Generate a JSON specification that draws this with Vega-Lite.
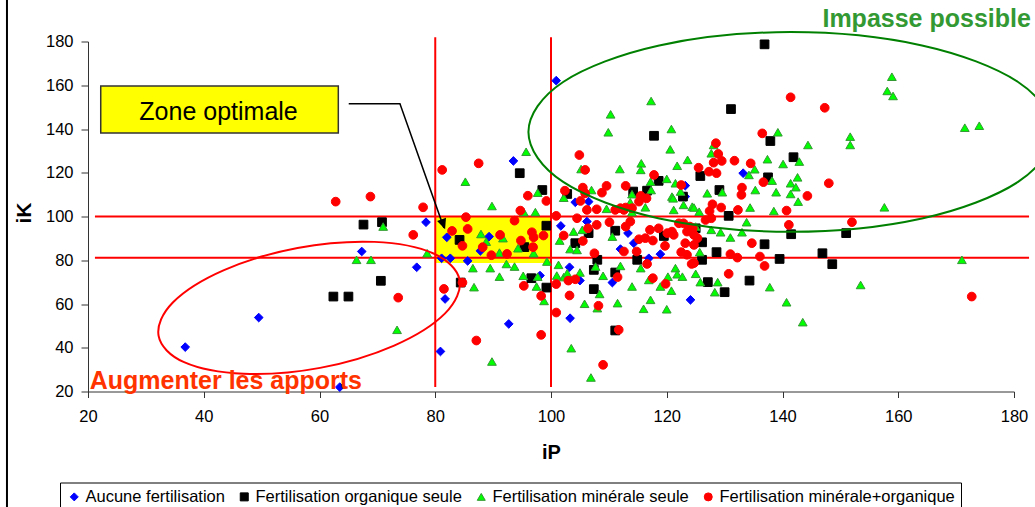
{
"$schema": "https://vega.github.io/schema/vega-lite/v6.json",
"width": 926, "height": 350,
"autosize": {"type": "none"},
"padding": {"left": 88, "top": 41.5, "right": 21, "bottom": 115.5},
"background": "white",
"config": {"view": {"stroke": null}, "font": "Liberation Sans"},
"encoding": {
  "x": {"field": "iP", "type": "quantitative", "title": "iP",
        "scale": {"domain": [20, 180], "nice": false, "zero": false},
        "axis": {"values": [20,40,60,80,100,120,140,160,180], "grid": false, "labelFlush": false, "tickSize": 6, "labelPadding": 11,
                 "labelFontSize": 16.5, "labelColor": "#000000", "domainColor": "#333333", "tickColor": "#333333",
                 "titleFontSize": 20, "titleFontWeight": "bold", "titleColor": "#000000", "titleY": 67, "titleBaseline": "alphabetic"}},
  "y": {"field": "iK", "type": "quantitative", "title": "iK",
        "scale": {"domain": [20, 180], "nice": false, "zero": false},
        "axis": {"values": [20,40,60,80,100,120,140,160,180], "grid": false, "tickSize": 7, "labelPadding": 8,
                 "labelFontSize": 16.5, "labelColor": "#000000", "domainColor": "#333333", "tickColor": "#333333",
                 "titleFontSize": 21, "titleFontWeight": "bold", "titleColor": "#000000", "titleX": -58, "titleY": 171,
                 "titleAngle": 270, "titleBaseline": "alphabetic", "titleAlign": "center"}}
},
"layer": [
  {"data": {"values": [{"iP": 80, "iP2": 100, "iK": 78.7, "iK2": 100}]},
   "mark": {"type": "rect", "fill": "#ffff00"},
   "encoding": {"x2": {"field": "iP2"}, "y2": {"field": "iK2"}}},
  {"data": {"values": [{"iP": 80, "iK": 22.1, "iK2": 182}, {"iP": 100, "iK": 22.1, "iK2": 182}]},
   "mark": {"type": "rule", "color": "#ff0000", "strokeWidth": 2},
   "encoding": {"y2": {"field": "iK2"}}},
  {"data": {"values": [{"iK": 100, "iP": 21.2, "iP2": 182.6}, {"iK": 81.2, "iP": 21.2, "iP2": 182.6}]},
   "mark": {"type": "rule", "color": "#ff0000", "strokeWidth": 2},
   "encoding": {"x2": {"field": "iP2"}}},
  {"data": {"values": [
    {"g":"Aucune fertilisation","iP":36.8,"iK":40.3},{"g":"Aucune fertilisation","iP":49.5,"iK":53.8},{"g":"Aucune fertilisation","iP":63.5,"iK":22.0},
    {"g":"Aucune fertilisation","iP":67.3,"iK":84.0},{"g":"Aucune fertilisation","iP":76.8,"iK":76.8},{"g":"Aucune fertilisation","iP":78.4,"iK":97.4},
    {"g":"Aucune fertilisation","iP":80.9,"iK":38.3},{"g":"Aucune fertilisation","iP":82.0,"iK":90.5},{"g":"Aucune fertilisation","iP":81.1,"iK":80.9},
    {"g":"Aucune fertilisation","iP":82.6,"iK":80.9},{"g":"Aucune fertilisation","iP":85.6,"iK":79.7},{"g":"Aucune fertilisation","iP":81.7,"iK":62.3},
    {"g":"Aucune fertilisation","iP":92.7,"iK":50.9},{"g":"Aucune fertilisation","iP":89.3,"iK":90.8},{"g":"Aucune fertilisation","iP":87.8,"iK":84.3},
    {"g":"Aucune fertilisation","iP":93.5,"iK":125.4},{"g":"Aucune fertilisation","iP":100.9,"iK":162.1},{"g":"Aucune fertilisation","iP":101.7,"iK":95.7},
    {"g":"Aucune fertilisation","iP":106.2,"iK":97.7},{"g":"Aucune fertilisation","iP":113.3,"iK":92.4},{"g":"Aucune fertilisation","iP":114.3,"iK":87.8},
    {"g":"Aucune fertilisation","iP":116.9,"iK":80.9},{"g":"Aucune fertilisation","iP":103.2,"iK":76.8},{"g":"Aucune fertilisation","iP":105.0,"iK":70.7},
    {"g":"Aucune fertilisation","iP":110.6,"iK":69.8},{"g":"Aucune fertilisation","iP":103.3,"iK":53.5},{"g":"Aucune fertilisation","iP":104.2,"iK":106.5},
    {"g":"Aucune fertilisation","iP":106.5,"iK":106.8},{"g":"Aucune fertilisation","iP":118.9,"iK":82.8},{"g":"Aucune fertilisation","iP":112.0,"iK":85.1},
    {"g":"Aucune fertilisation","iP":98.1,"iK":73.0},{"g":"Aucune fertilisation","iP":123.2,"iK":114.1},{"g":"Aucune fertilisation","iP":123.2,"iK":109.1},
    {"g":"Aucune fertilisation","iP":133.2,"iK":119.8},{"g":"Aucune fertilisation","iP":124.1,"iK":61.9},
    {"g":"Fertilisation organique seule","iP":62.4,"iK":63.4},{"g":"Fertilisation organique seule","iP":65.0,"iK":63.4},{"g":"Fertilisation organique seule","iP":67.6,"iK":96.3},
    {"g":"Fertilisation organique seule","iP":70.8,"iK":97.4},{"g":"Fertilisation organique seule","iP":70.6,"iK":70.6},{"g":"Fertilisation organique seule","iP":84.2,"iK":89.3},
    {"g":"Fertilisation organique seule","iP":84.4,"iK":69.8},{"g":"Fertilisation organique seule","iP":95.4,"iK":86.0},{"g":"Fertilisation organique seule","iP":96.6,"iK":71.8},
    {"g":"Fertilisation organique seule","iP":99.2,"iK":67.5},{"g":"Fertilisation organique seule","iP":99.2,"iK":95.8},{"g":"Fertilisation organique seule","iP":98.5,"iK":112.1},
    {"g":"Fertilisation organique seule","iP":94.6,"iK":119.8},{"g":"Fertilisation organique seule","iP":104.2,"iK":87.8},{"g":"Fertilisation organique seule","iP":106.5,"iK":92.4},
    {"g":"Fertilisation organique seule","iP":111.1,"iK":93.5},{"g":"Fertilisation organique seule","iP":119.5,"iK":91.1},{"g":"Fertilisation organique seule","iP":114.9,"iK":80.2},
    {"g":"Fertilisation organique seule","iP":108.0,"iK":80.2},{"g":"Fertilisation organique seule","iP":107.4,"iK":75.6},{"g":"Fertilisation organique seule","iP":107.4,"iK":66.8},
    {"g":"Fertilisation organique seule","iP":111.1,"iK":74.4},{"g":"Fertilisation organique seule","iP":111.1,"iK":47.9},{"g":"Fertilisation organique seule","iP":117.8,"iK":136.9},
    {"g":"Fertilisation organique seule","iP":118.6,"iK":116.3},{"g":"Fertilisation organique seule","iP":102.8,"iK":110.3},{"g":"Fertilisation organique seule","iP":114.2,"iK":111.4},
    {"g":"Fertilisation organique seule","iP":116.6,"iK":111.8},{"g":"Fertilisation organique seule","iP":125.8,"iK":118.5},{"g":"Fertilisation organique seule","iP":122.8,"iK":109.1},
    {"g":"Fertilisation organique seule","iP":131.1,"iK":149.1},{"g":"Fertilisation organique seule","iP":136.9,"iK":178.7},{"g":"Fertilisation organique seule","iP":137.9,"iK":134.5},
    {"g":"Fertilisation organique seule","iP":141.9,"iK":127.1},{"g":"Fertilisation organique seule","iP":137.5,"iK":117.9},{"g":"Fertilisation organique seule","iP":129.1,"iK":112.1},
    {"g":"Fertilisation organique seule","iP":130.7,"iK":100.3},{"g":"Fertilisation organique seule","iP":125.0,"iK":94.6},{"g":"Fertilisation organique seule","iP":126.1,"iK":88.2},
    {"g":"Fertilisation organique seule","iP":128.6,"iK":83.7},{"g":"Fertilisation organique seule","iP":126.1,"iK":80.2},{"g":"Fertilisation organique seule","iP":136.9,"iK":87.3},
    {"g":"Fertilisation organique seule","iP":141.5,"iK":91.9},{"g":"Fertilisation organique seule","iP":151.0,"iK":92.4},{"g":"Fertilisation organique seule","iP":139.5,"iK":80.6},
    {"g":"Fertilisation organique seule","iP":146.9,"iK":83.2},{"g":"Fertilisation organique seule","iP":148.6,"iK":78.2},{"g":"Fertilisation organique seule","iP":134.3,"iK":70.7},
    {"g":"Fertilisation organique seule","iP":127.1,"iK":70.0},{"g":"Fertilisation organique seule","iP":130.0,"iK":65.4},
    {"g":"Fertilisation minérale seule","iP":71.0,"iK":95.4},{"g":"Fertilisation minérale seule","iP":66.4,"iK":80.2},{"g":"Fertilisation minérale seule","iP":68.9,"iK":80.2},
    {"g":"Fertilisation minérale seule","iP":78.6,"iK":83.2},{"g":"Fertilisation minérale seule","iP":73.4,"iK":48.2},{"g":"Fertilisation minérale seule","iP":85.2,"iK":115.9},
    {"g":"Fertilisation minérale seule","iP":86.5,"iK":76.4},{"g":"Fertilisation minérale seule","iP":86.7,"iK":67.7},{"g":"Fertilisation minérale seule","iP":89.8,"iK":33.7},
    {"g":"Fertilisation minérale seule","iP":89.8,"iK":104.8},{"g":"Fertilisation minérale seule","iP":87.9,"iK":92.0},{"g":"Fertilisation minérale seule","iP":88.8,"iK":88.5},
    {"g":"Fertilisation minérale seule","iP":91.1,"iK":83.5},{"g":"Fertilisation minérale seule","iP":91.7,"iK":90.1},{"g":"Fertilisation minérale seule","iP":97.7,"iK":110.9},
    {"g":"Fertilisation minérale seule","iP":94.3,"iK":85.5},{"g":"Fertilisation minérale seule","iP":97.0,"iK":83.2},{"g":"Fertilisation minérale seule","iP":92.3,"iK":78.3},
    {"g":"Fertilisation minérale seule","iP":93.7,"iK":77.1},{"g":"Fertilisation minérale seule","iP":89.5,"iK":76.4},{"g":"Fertilisation minérale seule","iP":91.1,"iK":72.5},
    {"g":"Fertilisation minérale seule","iP":95.2,"iK":72.9},{"g":"Fertilisation minérale seule","iP":97.7,"iK":72.5},{"g":"Fertilisation minérale seule","iP":97.5,"iK":68.0},
    {"g":"Fertilisation minérale seule","iP":98.8,"iK":61.4},{"g":"Fertilisation minérale seule","iP":99.3,"iK":79.4},{"g":"Fertilisation minérale seule","iP":101.5,"iK":89.0},
    {"g":"Fertilisation minérale seule","iP":103.9,"iK":93.1},{"g":"Fertilisation minérale seule","iP":105.4,"iK":93.9},{"g":"Fertilisation minérale seule","iP":103.3,"iK":85.1},
    {"g":"Fertilisation minérale seule","iP":104.5,"iK":84.7},{"g":"Fertilisation minérale seule","iP":110.6,"iK":90.8},{"g":"Fertilisation minérale seule","iP":115.5,"iK":76.4},
    {"g":"Fertilisation minérale seule","iP":116.9,"iK":71.0},{"g":"Fertilisation minérale seule","iP":120.2,"iK":72.5},{"g":"Fertilisation minérale seule","iP":120.8,"iK":66.1},
    {"g":"Fertilisation minérale seule","iP":121.5,"iK":76.4},{"g":"Fertilisation minérale seule","iP":120.0,"iK":57.6},{"g":"Fertilisation minérale seule","iP":116.0,"iK":57.8},
    {"g":"Fertilisation minérale seule","iP":117.2,"iK":61.9},{"g":"Fertilisation minérale seule","iP":107.7,"iK":77.1},{"g":"Fertilisation minérale seule","iP":108.4,"iK":64.6},
    {"g":"Fertilisation minérale seule","iP":105.8,"iK":60.1},{"g":"Fertilisation minérale seule","iP":108.0,"iK":58.1},{"g":"Fertilisation minérale seule","iP":111.5,"iK":60.4},
    {"g":"Fertilisation minérale seule","iP":114.0,"iK":68.0},{"g":"Fertilisation minérale seule","iP":109.0,"iK":72.9},{"g":"Fertilisation minérale seule","iP":112.0,"iK":77.4},
    {"g":"Fertilisation minérale seule","iP":105.0,"iK":74.4},{"g":"Fertilisation minérale seule","iP":102.2,"iK":72.3},{"g":"Fertilisation minérale seule","iP":101.3,"iK":77.9},
    {"g":"Fertilisation minérale seule","iP":103.5,"iK":39.8},{"g":"Fertilisation minérale seule","iP":106.9,"iK":26.4},{"g":"Fertilisation minérale seule","iP":95.7,"iK":129.6},
    {"g":"Fertilisation minérale seule","iP":117.3,"iK":152.8},{"g":"Fertilisation minérale seule","iP":110.3,"iK":146.7},{"g":"Fertilisation minérale seule","iP":109.9,"iK":138.5},
    {"g":"Fertilisation minérale seule","iP":120.8,"iK":140.0},{"g":"Fertilisation minérale seule","iP":120.6,"iK":130.7},{"g":"Fertilisation minérale seule","iP":105.2,"iK":121.7},
    {"g":"Fertilisation minérale seule","iP":111.9,"iK":121.7},{"g":"Fertilisation minérale seule","iP":115.6,"iK":124.3},{"g":"Fertilisation minérale seule","iP":115.5,"iK":121.3},
    {"g":"Fertilisation minérale seule","iP":121.8,"iK":123.2},{"g":"Fertilisation minérale seule","iP":120.0,"iK":117.2},{"g":"Fertilisation minérale seule","iP":117.2,"iK":115.9},
    {"g":"Fertilisation minérale seule","iP":117.3,"iK":112.1},{"g":"Fertilisation minérale seule","iP":107.0,"iK":112.1},{"g":"Fertilisation minérale seule","iP":114.0,"iK":110.2},
    {"g":"Fertilisation minérale seule","iP":123.6,"iK":125.9},{"g":"Fertilisation minérale seule","iP":121.5,"iK":115.2},{"g":"Fertilisation minérale seule","iP":122.4,"iK":111.4},
    {"g":"Fertilisation minérale seule","iP":120.9,"iK":109.1},{"g":"Fertilisation minérale seule","iP":139.2,"iK":138.5},{"g":"Fertilisation minérale seule","iP":144.4,"iK":132.7},
    {"g":"Fertilisation minérale seule","iP":151.7,"iK":136.5},{"g":"Fertilisation minérale seule","iP":151.7,"iK":132.7},{"g":"Fertilisation minérale seule","iP":127.7,"iK":128.9},
    {"g":"Fertilisation minérale seule","iP":128.1,"iK":132.7},{"g":"Fertilisation minérale seule","iP":137.4,"iK":126.2},{"g":"Fertilisation minérale seule","iP":140.1,"iK":124.0},
    {"g":"Fertilisation minérale seule","iP":142.9,"iK":125.1},{"g":"Fertilisation minérale seule","iP":134.2,"iK":119.0},{"g":"Fertilisation minérale seule","iP":135.2,"iK":121.6},
    {"g":"Fertilisation minérale seule","iP":138.2,"iK":116.4},{"g":"Fertilisation minérale seule","iP":142.6,"iK":117.9},{"g":"Fertilisation minérale seule","iP":141.4,"iK":115.2},
    {"g":"Fertilisation minérale seule","iP":142.3,"iK":113.4},{"g":"Fertilisation minérale seule","iP":129.6,"iK":111.1},{"g":"Fertilisation minérale seule","iP":127.0,"iK":110.6},
    {"g":"Fertilisation minérale seule","iP":135.3,"iK":112.1},{"g":"Fertilisation minérale seule","iP":138.9,"iK":111.1},{"g":"Fertilisation minérale seule","iP":141.4,"iK":110.3},
    {"g":"Fertilisation minérale seule","iP":158.9,"iK":163.9},{"g":"Fertilisation minérale seule","iP":158.1,"iK":157.4},{"g":"Fertilisation minérale seule","iP":159.1,"iK":155.1},
    {"g":"Fertilisation minérale seule","iP":171.5,"iK":140.6},{"g":"Fertilisation minérale seule","iP":174.0,"iK":141.5},{"g":"Fertilisation minérale seule","iP":102.2,"iK":108.6},
    {"g":"Fertilisation minérale seule","iP":109.6,"iK":103.5},{"g":"Fertilisation minérale seule","iP":114.0,"iK":102.0},{"g":"Fertilisation minérale seule","iP":113.7,"iK":106.5},
    {"g":"Fertilisation minérale seule","iP":116.3,"iK":104.2},{"g":"Fertilisation minérale seule","iP":121.2,"iK":103.0},{"g":"Fertilisation minérale seule","iP":124.4,"iK":104.5},
    {"g":"Fertilisation minérale seule","iP":125.6,"iK":102.2},{"g":"Fertilisation minérale seule","iP":121.1,"iK":108.3},{"g":"Fertilisation minérale seule","iP":122.9,"iK":105.3},
    {"g":"Fertilisation minérale seule","iP":95.3,"iK":102.0},{"g":"Fertilisation minérale seule","iP":97.3,"iK":102.0},{"g":"Fertilisation minérale seule","iP":125.0,"iK":95.4},
    {"g":"Fertilisation minérale seule","iP":121.8,"iK":73.6},{"g":"Fertilisation minérale seule","iP":122.7,"iK":72.5},{"g":"Fertilisation minérale seule","iP":125.0,"iK":73.8},
    {"g":"Fertilisation minérale seule","iP":102.8,"iK":74.1},{"g":"Fertilisation minérale seule","iP":101.0,"iK":73.0},{"g":"Fertilisation minérale seule","iP":118.9,"iK":68.0},
    {"g":"Fertilisation minérale seule","iP":142.7,"iK":106.8},{"g":"Fertilisation minérale seule","iP":124.7,"iK":104.1},{"g":"Fertilisation minérale seule","iP":134.4,"iK":104.1},
    {"g":"Fertilisation minérale seule","iP":138.5,"iK":102.5},{"g":"Fertilisation minérale seule","iP":127.7,"iK":93.9},{"g":"Fertilisation minérale seule","iP":133.8,"iK":97.4},
    {"g":"Fertilisation minérale seule","iP":133.0,"iK":92.8},{"g":"Fertilisation minérale seule","iP":131.0,"iK":90.4},{"g":"Fertilisation minérale seule","iP":125.7,"iK":83.7},
    {"g":"Fertilisation minérale seule","iP":125.8,"iK":70.0},{"g":"Fertilisation minérale seule","iP":128.8,"iK":70.0},{"g":"Fertilisation minérale seule","iP":128.3,"iK":65.4},
    {"g":"Fertilisation minérale seule","iP":137.8,"iK":67.7},{"g":"Fertilisation minérale seule","iP":153.5,"iK":68.7},{"g":"Fertilisation minérale seule","iP":140.7,"iK":60.8},
    {"g":"Fertilisation minérale seule","iP":157.6,"iK":104.2},{"g":"Fertilisation minérale seule","iP":171.0,"iK":80.2},{"g":"Fertilisation minérale seule","iP":143.5,"iK":51.7},
    {"g":"Fertilisation minérale seule","iP":129.3,"iK":92.8},
    {"g":"Fertilisation minérale+organique","iP":62.8,"iK":106.8},{"g":"Fertilisation minérale+organique","iP":68.8,"iK":109.1},{"g":"Fertilisation minérale+organique","iP":77.9,"iK":104.2},
    {"g":"Fertilisation minérale+organique","iP":76.2,"iK":91.6},{"g":"Fertilisation minérale+organique","iP":73.6,"iK":62.9},{"g":"Fertilisation minérale+organique","iP":82.9,"iK":93.4},
    {"g":"Fertilisation minérale+organique","iP":85.3,"iK":99.7},{"g":"Fertilisation minérale+organique","iP":85.6,"iK":94.3},{"g":"Fertilisation minérale+organique","iP":84.7,"iK":86.6},
    {"g":"Fertilisation minérale+organique","iP":84.7,"iK":69.8},{"g":"Fertilisation minérale+organique","iP":81.5,"iK":66.9},{"g":"Fertilisation minérale+organique","iP":87.1,"iK":43.3},
    {"g":"Fertilisation minérale+organique","iP":98.3,"iK":45.9},{"g":"Fertilisation minérale+organique","iP":91.2,"iK":91.6},{"g":"Fertilisation minérale+organique","iP":88.2,"iK":86.0},
    {"g":"Fertilisation minérale+organique","iP":89.7,"iK":82.3},{"g":"Fertilisation minérale+organique","iP":92.4,"iK":82.9},{"g":"Fertilisation minérale+organique","iP":93.7,"iK":98.1},
    {"g":"Fertilisation minérale+organique","iP":94.7,"iK":102.7},{"g":"Fertilisation minérale+organique","iP":96.0,"iK":109.5},{"g":"Fertilisation minérale+organique","iP":99.2,"iK":107.1},
    {"g":"Fertilisation minérale+organique","iP":94.8,"iK":89.0},{"g":"Fertilisation minérale+organique","iP":96.7,"iK":92.8},{"g":"Fertilisation minérale+organique","iP":97.0,"iK":90.5},
    {"g":"Fertilisation minérale+organique","iP":98.7,"iK":91.3},{"g":"Fertilisation minérale+organique","iP":96.9,"iK":86.0},{"g":"Fertilisation minérale+organique","iP":95.3,"iK":68.3},
    {"g":"Fertilisation minérale+organique","iP":98.3,"iK":63.7},{"g":"Fertilisation minérale+organique","iP":100.9,"iK":100.3},{"g":"Fertilisation minérale+organique","iP":102.2,"iK":91.3},
    {"g":"Fertilisation minérale+organique","iP":104.5,"iK":99.2},{"g":"Fertilisation minérale+organique","iP":105.1,"iK":107.1},{"g":"Fertilisation minérale+organique","iP":106.4,"iK":94.6},
    {"g":"Fertilisation minérale+organique","iP":105.5,"iK":88.8},{"g":"Fertilisation minérale+organique","iP":106.2,"iK":103.0},{"g":"Fertilisation minérale+organique","iP":107.9,"iK":103.3},
    {"g":"Fertilisation minérale+organique","iP":107.9,"iK":96.2},{"g":"Fertilisation minérale+organique","iP":110.1,"iK":97.4},{"g":"Fertilisation minérale+organique","iP":112.6,"iK":103.0},
    {"g":"Fertilisation minérale+organique","iP":112.9,"iK":95.4},{"g":"Fertilisation minérale+organique","iP":114.0,"iK":103.8},{"g":"Fertilisation minérale+organique","iP":113.7,"iK":97.7},
    {"g":"Fertilisation minérale+organique","iP":115.2,"iK":89.6},{"g":"Fertilisation minérale+organique","iP":116.3,"iK":90.1},{"g":"Fertilisation minérale+organique","iP":117.6,"iK":89.0},
    {"g":"Fertilisation minérale+organique","iP":117.1,"iK":93.9},{"g":"Fertilisation minérale+organique","iP":118.6,"iK":94.6},{"g":"Fertilisation minérale+organique","iP":120.1,"iK":92.4},
    {"g":"Fertilisation minérale+organique","iP":119.7,"iK":86.6},{"g":"Fertilisation minérale+organique","iP":121.2,"iK":91.6},{"g":"Fertilisation minérale+organique","iP":112.6,"iK":84.0},
    {"g":"Fertilisation minérale+organique","iP":114.8,"iK":84.0},{"g":"Fertilisation minérale+organique","iP":116.6,"iK":78.3},{"g":"Fertilisation minérale+organique","iP":117.6,"iK":71.8},
    {"g":"Fertilisation minérale+organique","iP":119.8,"iK":69.2},{"g":"Fertilisation minérale+organique","iP":111.5,"iK":72.3},{"g":"Fertilisation minérale+organique","iP":103.0,"iK":70.7},
    {"g":"Fertilisation minérale+organique","iP":104.2,"iK":71.3},{"g":"Fertilisation minérale+organique","iP":100.9,"iK":69.1},{"g":"Fertilisation minérale+organique","iP":100.9,"iK":56.1},
    {"g":"Fertilisation minérale+organique","iP":109.0,"iK":32.2},{"g":"Fertilisation minérale+organique","iP":111.7,"iK":48.2},{"g":"Fertilisation minérale+organique","iP":108.2,"iK":59.2},
    {"g":"Fertilisation minérale+organique","iP":104.9,"iK":128.1},{"g":"Fertilisation minérale+organique","iP":105.9,"iK":121.3},{"g":"Fertilisation minérale+organique","iP":87.5,"iK":124.3},
    {"g":"Fertilisation minérale+organique","iP":81.2,"iK":121.3},{"g":"Fertilisation minérale+organique","iP":117.8,"iK":119.0},{"g":"Fertilisation minérale+organique","iP":102.4,"iK":111.8},
    {"g":"Fertilisation minérale+organique","iP":105.5,"iK":113.2},{"g":"Fertilisation minérale+organique","iP":105.9,"iK":110.6},{"g":"Fertilisation minérale+organique","iP":108.8,"iK":110.9},
    {"g":"Fertilisation minérale+organique","iP":109.6,"iK":114.0},{"g":"Fertilisation minérale+organique","iP":112.9,"iK":114.0},{"g":"Fertilisation minérale+organique","iP":115.5,"iK":109.4},
    {"g":"Fertilisation minérale+organique","iP":125.5,"iK":122.3},{"g":"Fertilisation minérale+organique","iP":122.5,"iK":114.4},{"g":"Fertilisation minérale+organique","iP":141.4,"iK":154.5},
    {"g":"Fertilisation minérale+organique","iP":147.3,"iK":149.7},{"g":"Fertilisation minérale+organique","iP":136.5,"iK":138.0},{"g":"Fertilisation minérale+organique","iP":128.5,"iK":133.5},
    {"g":"Fertilisation minérale+organique","iP":128.9,"iK":128.6},{"g":"Fertilisation minérale+organique","iP":128.1,"iK":124.6},{"g":"Fertilisation minérale+organique","iP":129.5,"iK":125.4},
    {"g":"Fertilisation minérale+organique","iP":131.7,"iK":125.5},{"g":"Fertilisation minérale+organique","iP":134.5,"iK":124.3},{"g":"Fertilisation minérale+organique","iP":127.3,"iK":120.5},
    {"g":"Fertilisation minérale+organique","iP":128.6,"iK":119.8},{"g":"Fertilisation minérale+organique","iP":136.7,"iK":115.7},{"g":"Fertilisation minérale+organique","iP":148.0,"iK":115.2},
    {"g":"Fertilisation minérale+organique","iP":133.0,"iK":113.2},{"g":"Fertilisation minérale+organique","iP":132.9,"iK":109.9},{"g":"Fertilisation minérale+organique","iP":144.3,"iK":109.4},
    {"g":"Fertilisation minérale+organique","iP":111.1,"iK":103.0},{"g":"Fertilisation minérale+organique","iP":112.0,"iK":103.8},{"g":"Fertilisation minérale+organique","iP":112.9,"iK":104.1},
    {"g":"Fertilisation minérale+organique","iP":115.2,"iK":106.8},{"g":"Fertilisation minérale+organique","iP":116.5,"iK":108.3},{"g":"Fertilisation minérale+organique","iP":120.9,"iK":93.1},
    {"g":"Fertilisation minérale+organique","iP":122.1,"iK":96.9},{"g":"Fertilisation minérale+organique","iP":122.9,"iK":96.9},{"g":"Fertilisation minérale+organique","iP":123.5,"iK":93.1},
    {"g":"Fertilisation minérale+organique","iP":124.7,"iK":91.6},{"g":"Fertilisation minérale+organique","iP":123.2,"iK":87.8},{"g":"Fertilisation minérale+organique","iP":124.7,"iK":87.0},
    {"g":"Fertilisation minérale+organique","iP":125.3,"iK":90.1},{"g":"Fertilisation minérale+organique","iP":124.0,"iK":95.4},{"g":"Fertilisation minérale+organique","iP":122.5,"iK":83.7},
    {"g":"Fertilisation minérale+organique","iP":123.5,"iK":82.5},{"g":"Fertilisation minérale+organique","iP":124.3,"iK":78.3},{"g":"Fertilisation minérale+organique","iP":124.7,"iK":78.7},
    {"g":"Fertilisation minérale+organique","iP":107.5,"iK":83.2},{"g":"Fertilisation minérale+organique","iP":103.2,"iK":63.9},{"g":"Fertilisation minérale+organique","iP":127.9,"iK":105.6},
    {"g":"Fertilisation minérale+organique","iP":127.4,"iK":102.5},{"g":"Fertilisation minérale+organique","iP":129.4,"iK":104.1},{"g":"Fertilisation minérale+organique","iP":132.3,"iK":103.0},
    {"g":"Fertilisation minérale+organique","iP":140.7,"iK":102.7},{"g":"Fertilisation minérale+organique","iP":126.7,"iK":98.4},{"g":"Fertilisation minérale+organique","iP":127.7,"iK":99.2},
    {"g":"Fertilisation minérale+organique","iP":124.5,"iK":94.6},{"g":"Fertilisation minérale+organique","iP":134.7,"iK":87.8},{"g":"Fertilisation minérale+organique","iP":141.1,"iK":96.2},
    {"g":"Fertilisation minérale+organique","iP":152.0,"iK":97.4},{"g":"Fertilisation minérale+organique","iP":131.0,"iK":82.8},{"g":"Fertilisation minérale+organique","iP":132.2,"iK":81.2},
    {"g":"Fertilisation minérale+organique","iP":136.1,"iK":81.7},{"g":"Fertilisation minérale+organique","iP":136.9,"iK":77.4},{"g":"Fertilisation minérale+organique","iP":130.7,"iK":73.8},
    {"g":"Fertilisation minérale+organique","iP":172.7,"iK":63.4}
   ]},
   "mark": {"type": "point", "filled": true, "size": 76, "strokeWidth": 1, "opacity": 1},
   "encoding": {
     "shape": {"field": "g", "type": "nominal", "title": null,
       "scale": {"domain": ["Aucune fertilisation","Fertilisation organique seule","Fertilisation minérale seule","Fertilisation minérale+organique"], "range": ["diamond","square","triangle-up","circle"]},
       "legend": {"orient": "none", "legendX": -28, "legendY": 441, "direction": "horizontal", "columns": 4, "padding": 6, "strokeColor": "#000000",
                  "labelFontSize": 16.5, "labelColor": "#000000", "labelLimit": 400, "symbolSize": 64, "symbolStrokeWidth": 1, "labelOffset": 3, "columnPadding": 11}},
     "fill": {"field": "g", "type": "nominal", "title": null,
       "scale": {"domain": ["Aucune fertilisation","Fertilisation organique seule","Fertilisation minérale seule","Fertilisation minérale+organique"], "range": ["#0000ff","#000000","#00ff00","#ff0000"]},
       "legend": {"orient": "none", "legendX": -28, "legendY": 441, "direction": "horizontal", "columns": 4, "padding": 6, "strokeColor": "#000000",
                  "labelFontSize": 16.5, "labelColor": "#000000", "labelLimit": 400, "symbolSize": 64, "symbolStrokeWidth": 1, "labelOffset": 3, "columnPadding": 11}},
     "stroke": {"field": "g", "type": "nominal", "title": null,
       "scale": {"domain": ["Aucune fertilisation","Fertilisation organique seule","Fertilisation minérale seule","Fertilisation minérale+organique"], "range": ["#0000ff","#000000","#339933","#ff0000"]},
       "legend": {"orient": "none", "legendX": -28, "legendY": 441, "direction": "horizontal", "columns": 4, "padding": 6, "strokeColor": "#000000",
                  "labelFontSize": 16.5, "labelColor": "#000000", "labelLimit": 400, "symbolSize": 64, "symbolStrokeWidth": 1, "labelOffset": 3, "columnPadding": 11}}
   }},
  {"data": {"values": [
    {"iP":186.7,"iK":138.6,"i":0},{"iP":180.7,"iK":161.5,"i":1},{"iP":164.1,"iK":178.2,"i":2},{"iP":141.4,"iK":184.3,"i":3},
    {"iP":118.7,"iK":178.2,"i":4},{"iP":102.1,"iK":161.5,"i":5},{"iP":96.1,"iK":138.6,"i":6},{"iP":102.1,"iK":115.8,"i":7},
    {"iP":118.7,"iK":99.1,"i":8},{"iP":141.4,"iK":93.0,"i":9},{"iP":164.1,"iK":99.1,"i":10},{"iP":180.7,"iK":115.8,"i":11}]},
   "mark": {"type": "line", "interpolate": "cardinal-closed", "color": "#008000", "strokeWidth": 2},
   "encoding": {"order": {"field": "i", "type": "quantitative"}}},
  {"data": {"values": [
    {"iP":84.2,"iK":71.1,"i":0},{"iP":81.7,"iK":55.7,"i":1},{"iP":72.9,"iK":41.0,"i":2},{"iP":60.1,"iK":30.8,"i":3},
    {"iP":46.9,"iK":28.1,"i":4},{"iP":36.6,"iK":33.4,"i":5},{"iP":32.2,"iK":45.4,"i":6},{"iP":34.7,"iK":60.8,"i":7},
    {"iP":43.5,"iK":75.5,"i":8},{"iP":56.2,"iK":85.6,"i":9},{"iP":69.5,"iK":88.4,"i":10},{"iP":79.7,"iK":83.1,"i":11}]},
   "mark": {"type": "line", "interpolate": "cardinal-closed", "color": "#ff0000", "strokeWidth": 2},
   "encoding": {"order": {"field": "i", "type": "quantitative"}}},
  {"data": {"values": [{"iP": 146.9, "iK": 186.5, "label": "Impasse possible"}]},
   "mark": {"type": "text", "align": "left", "baseline": "alphabetic", "fontSize": 25, "fontWeight": "bold", "color": "#339933"},
   "encoding": {"text": {"field": "label"}}},
  {"data": {"values": [{"iP": 20.3, "iK": 21.2, "label": "Augmenter les apports"}]},
   "mark": {"type": "text", "align": "left", "baseline": "alphabetic", "fontSize": 25, "fontWeight": "bold", "color": "#ff3300"},
   "encoding": {"text": {"field": "label"}}},
  {"data": {"values": [{"iP": 22.2, "iP2": 63.25, "iK": 138.2, "iK2": 159.7}]},
   "mark": {"type": "rect", "fill": "#ffff00", "stroke": "#333333", "strokeWidth": 1.5},
   "encoding": {"x2": {"field": "iP2"}, "y2": {"field": "iK2"}}},
  {"data": {"values": [{"iP": 42.56, "iK": 144.1, "label": "Zone optimale"}]},
   "mark": {"type": "text", "align": "center", "baseline": "alphabetic", "fontSize": 25, "color": "#000000"},
   "encoding": {"text": {"field": "label"}}},
  {"data": {"values": [{"iP": 65.05, "iK": 151.6, "o": 1}, {"iP": 73.9, "iK": 151.6, "o": 2}, {"iP": 81.5, "iK": 94.8, "o": 3}]},
   "mark": {"type": "line", "color": "#000000", "strokeWidth": 1.5},
   "encoding": {"order": {"field": "o", "type": "quantitative"}}},
  {"data": {"values": [{"iP": 81.7, "iK": 94.2}]},
   "mark": {"type": "point", "shape": "M0,0L-0.45,-1L0.45,-1Z", "size": 441, "filled": true, "color": "#000000", "opacity": 1, "angle": 340.3},
   "encoding": {}},
  {"data": {"values": [{"iP": 6.0, "iK": -33, "iK2": 199}]},
   "mark": {"type": "rule", "color": "#000000", "strokeWidth": 2},
   "encoding": {"y2": {"field": "iK2"}}}
]
}
